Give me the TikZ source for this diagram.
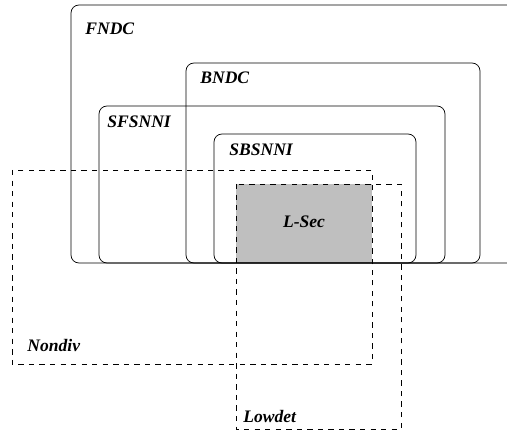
\documentclass[tikz,border=0pt]{standalone}
\usepackage{fontspec}
\newfontfamily\setfont[BoldItalicFont={* Bold Italic}]{Liberation Serif}
\usetikzlibrary{positioning}
\begin{document}
\begin{tikzpicture}[x=0.2mm, y=-0.2mm,
  setbox/.style={draw, rounded corners=1.6mm},
  approx/.style={draw, dashed},
  setname/.style={font=\setfont\bfseries\itshape, anchor=west, inner sep=0pt}]
\clip (0,0) rectangle (507,438);
% intersection of the two dashed classes
\fill[black!25] (236,184) rectangle (372,263);
% nested classes
\draw[setbox] (71,5) rectangle (545,263);
\draw[setbox] (186,63) rectangle (480,263);
\draw[setbox] (99,106) rectangle (445,263);
\draw[setbox] (214,134) rectangle (416,263);
% dashed classes
\draw[approx] (12,170) rectangle (372,364);
\draw[approx] (236,184) rectangle (401,429);
% names
\node[setname] (fndc) at (85,29) {FNDC};
\node[setname] (bndc) at (200,78) {BNDC};
\node[setname] (sfsnni) at (107,122) {SFSNNI};
\node[setname] (sbsnni) at (229,150) {SBSNNI};
\node[setname, anchor=center] (lsec) at (304,222) {L-Sec};
\node[setname] (nondiv) at (27,345) {Nondiv};
\node[setname] (lowdet) at (243,416) {Lowdet};
\end{tikzpicture}
\end{document}
